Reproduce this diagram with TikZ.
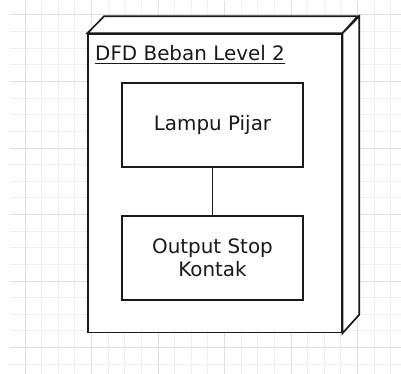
\documentclass[tikz,border=0pt]{standalone}
\usepackage{fontspec}
\setmainfont{DejaVu Sans}
\definecolor{gridminor}{HTML}{EFEFEF}
\definecolor{gridmajor}{HTML}{E0E0E0}
\definecolor{ink}{HTML}{1A1A1A}
\begin{document}
\begin{tikzpicture}[x=1pt,y=-1pt,
  minorline/.style={draw=gridminor,line width=1pt},
  majorline/.style={draw=gridmajor,line width=1pt},
  outline/.style={draw=ink,line width=1.7pt,fill=white,line join=miter},
  labeltext/.style={font=\fontsize{19.9}{22.5}\selectfont,text=ink,align=center},
  procbox/.style={outline,minimum width=181.6pt,minimum height=84pt,inner sep=0pt,labeltext}]
\useasboundingbox (0,0) rectangle (401,374);
\fill[white] (0,0) rectangle (401,374);
% background grid, major line every fourth step
\foreach \i in {0,...,22}{
  \pgfmathsetmacro\gx{25+16.63*\i}
  \draw[minorline] (\gx,1) -- (\gx,374);
}
\foreach \j in {0,...,21}{
  \pgfmathsetmacro\gy{15+16.63*\j}
  \draw[minorline] (10,\gy) -- (401,\gy);
}
\foreach \i in {0,4,...,20}{
  \pgfmathsetmacro\gx{25+16.63*\i}
  \draw[majorline] (\gx,1) -- (\gx,374);
  \pgfmathsetmacro\gy{15+16.63*\i}
  \draw[majorline] (10,\gy) -- (401,\gy);
}
% 3D node: front face, top face and side face
\node[outline,anchor=north west,minimum width=253.4pt,minimum height=298.4pt,inner sep=0pt] (front) at (87.3,33.3) {};
\draw[outline] (front.north west) -- ++(16.8,-17) -- ++(253.4,0) -- (front.north east) -- cycle;
\draw[outline] (front.north east) -- ++(16.8,-17) -- ++(0,298.4) -- (front.south east) -- cycle;
% title
\node[labeltext,anchor=base west,inner sep=0pt] (title) at (95,60.3) {DFD Beban Level 2};
\draw[draw=ink,line width=1.5pt] ([yshift=-3pt]title.base west) -- ([yshift=-3pt]title.base east);
% processes
\node[procbox] (lampu) at (212.5,124.7) {Lampu Pijar};
\node[procbox] (output) at (212.5,257.8) {Output Stop\\Kontak};
\draw[draw=ink,line width=1.7pt] (lampu) -- (output);
\end{tikzpicture}
\end{document}
